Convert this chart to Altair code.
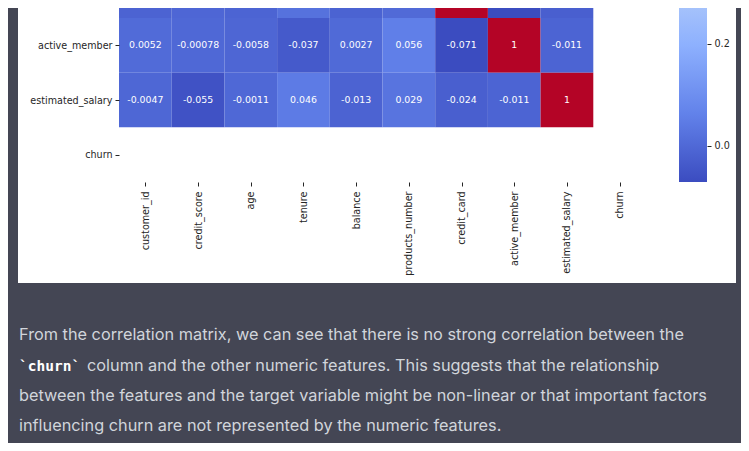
import json
import altair as alt
import pandas as pd

# ---------------- data ----------------
columns = ["customer_id", "credit_score", "age", "tenure", "balance",
           "products_number", "credit_card", "active_member",
           "estimated_salary", "churn"]

row_names = ["credit_card", "active_member", "estimated_salary", "churn"]
credit_card_row = [-0.014, -0.0055, -0.012, 0.023, -0.015, 0.0032, 1, -0.071, -0.024, None]
active_member_row = [0.0052, -0.00078, -0.0058, -0.037, 0.0027, 0.056, -0.071, 1, -0.011, None]
estimated_salary_row = [-0.0047, -0.055, -0.0011, 0.046, -0.013, 0.029, -0.024, -0.011, 1, None]
churn_row = [None] * 10
matrix_rows = [credit_card_row, active_member_row, estimated_salary_row, churn_row]

vmin, vmax = -0.071, 1.0
colorbar_ticks = [0.0, 0.2]
coolwarm = ["#3b4cc0", "#6282ea", "#8db0fe", "#b8d0f9", "#dddcdc",
            "#f5c4ac", "#f49a7b", "#de604d", "#b40426"]

para_line1 = "From the correlation matrix, we can see that there is no strong correlation between the"
para_code = "`churn`"
para_line2 = "column and the other numeric features. This suggests that the relationship"
para_line3 = "between the features and the target variable might be non-linear or that important factors"
para_line4 = "influencing churn are not represented by the numeric features."

# ---------------- tables ----------------
recs = []
for rname, vals in zip(row_names, matrix_rows):
    ri = columns.index(rname)
    for ci, v in enumerate(vals):
        if v is None:
            continue
        recs.append({"row": rname, "col": columns[ci], "c0": ci, "c1": ci + 1,
                     "cm": ci + 0.5, "r0": ri, "r1": ri + 1, "rm": ri + 0.5,
                     "v": v, "label": "{:.2g}".format(v)})
heat_df = pd.DataFrame(recs)
dummy = pd.DataFrame({"d": [0]})
cbar_df = pd.DataFrame({"lo": [vmin], "hi": [vmax]})

n = len(coolwarm)
stops = [vmin + (vmax - vmin) * i / (n - 1) for i in range(n)]

# ---------------- layout ----------------
W, H = 527, 164
ROWH = H / 3.0
TOTW, TOTH = 733, 435
PAD = {"left": 111, "top": 10, "right": TOTW - 111 - W, "bottom": TOTH - 10 - H}

names_js = json.dumps(columns)
label_expr = f"{names_js}[floor(datum.value)]"

xscale = alt.Scale(domain=[0, 10], nice=False, zero=False)
yscale = alt.Scale(domain=[7, 10], nice=False, zero=False, reverse=True)
cscale = alt.Scale(domain=stops, range=coolwarm, interpolate="rgb")

xaxis = alt.Axis(values=[i + 0.5 for i in range(10)], labelExpr=label_expr,
                 labelAngle=270, labelPadding=5, tickSize=4, labelOverlap=False,
                 labelFlush=False, title=None, zindex=2)
yaxis = alt.Axis(values=[i + 0.5 for i in range(10)], labelExpr=label_expr,
                 labelPadding=3, tickSize=4, labelOverlap=False,
                 labelFlush=False, title=None, zindex=2)

panel = alt.Chart(dummy).mark_rect(fill="white").encode(
    x=alt.value(-101), x2=alt.value(617), y=alt.value(-18), y2=alt.value(265))

heat_rect = alt.Chart(heat_df).mark_rect().encode(
    x=alt.X("c0:Q", scale=xscale, axis=xaxis), x2="c1:Q",
    y=alt.Y("r0:Q", scale=yscale, axis=yaxis), y2="r1:Q",
    color=alt.Color("v:Q", scale=cscale, legend=None))

# annotations of the row whose centre lies above the crop are not visible
heat_text = alt.Chart(heat_df).transform_filter("datum.r0 >= 7").mark_text(
    font="DejaVu Sans", fontSize=9.4, color="white", baseline="middle").encode(
    x=alt.X("cm:Q", scale=xscale), y=alt.Y("rm:Q", scale=yscale), text="label:N")

heat = alt.layer(heat_rect, heat_text)

grad = alt.Gradient(gradient="linear",
                    stops=[alt.GradientStop(offset=i / (n - 1), color=c) for i, c in enumerate(coolwarm)],
                    x1=0, x2=0, y1=1, y2=0)
cbar = alt.Chart(cbar_df).mark_rect(fill=grad).encode(
    x=alt.value(560), x2=alt.value(588),
    y=alt.Y("lo:Q", scale=alt.Scale(domain=[vmin, vmax], range=[H, H - 10 * ROWH], nice=False, zero=False),
            axis=alt.Axis(orient="right", offset=61, values=colorbar_ticks, format=".1f",
                          tickSize=4, labelPadding=3, labelOverlap=False, labelFlush=False,
                          title=None, zindex=2)),
    y2="hi:Q")

TEXT = "#d1d5db"
FONT = "Inter"
FS = 16.3


def line(txt, x, y, color=TEXT, font=FONT, size=FS, weight="normal"):
    return alt.Chart(dummy).mark_text(text=txt, align="left", baseline="alphabetic",
                                      font=font, fontSize=size, fontWeight=weight,
                                      color=color).encode(x=alt.value(x), y=alt.value(y))


paras = [
    line(para_line1, -100, 322),
    line(para_code, -100, 353, color="white", font="DejaVu Sans Mono", size=14.5, weight="bold"),
    line(para_line2, -32, 353),
    line(para_line3, -100, 383),
    line(para_line4, -100, 413),
]

chart = alt.layer(panel, heat, cbar, *paras).resolve_scale(
    y="independent").resolve_axis(y="independent").properties(
    width=W, height=H, padding=PAD, background="#444654",
    autosize=alt.AutoSizeParams(type="none")
).configure_view(strokeWidth=0).configure_axis(
    labelFont="DejaVu Sans", labelFontSize=9.6, labelColor="#262626",
    tickColor="#262626", domain=False, grid=False)

chart.save("out.html", embed_options={"renderer": "svg", "actions": False})
